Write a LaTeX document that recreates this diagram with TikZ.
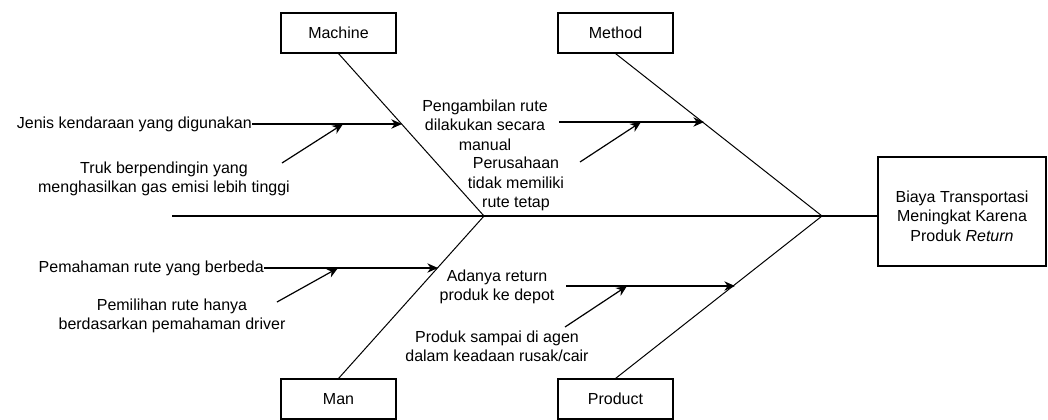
\documentclass[tikz,border=0pt]{standalone}
\usepackage{fontspec}
\setmainfont{Liberation Sans}
\usetikzlibrary{arrows.meta}
\begin{document}
\begin{tikzpicture}[x=0.75pt,y=-0.75pt,
  txt/.style={font=\fontsize{12}{14.5}\selectfont, align=center, inner sep=0pt},
  catbox/.style={draw, line width=0.8pt, minimum width=115*0.75pt, minimum height=40*0.75pt, font=\fontsize{12}{14.5}\selectfont, inner sep=0pt},
  bone/.style={line width=0.75pt},
  spine/.style={line width=1.5pt},
  arr/.style={line width=0.9pt, -{Stealth[length=8pt,width=7pt,inset=2.5pt]}}]
\useasboundingbox (0,0) rectangle (1048,419);
\clip (0,0) rectangle (1048,419);
% effect box
\node[draw, line width=0.8pt, minimum width=168*0.75pt, minimum height=109*0.75pt] (effect) at (962,211.5) {};
\node[txt] (effecttext) at (962,216) {Biaya Transportasi\\Meningkat Karena\\Produk \textit{Return}};
% category boxes
\node[catbox] (machine) at (338.5,33) {Machine};
\node[catbox] (method) at (615.5,33) {Method};
\node[catbox] (man) at (338.5,399) {Man};
\node[catbox] (product) at (615.5,399) {Product};
% spine
\coordinate (tail) at (172,216);
\coordinate (j1) at (484,216);
\coordinate (j2) at (822,216);
\draw[spine] (tail) -- (tail -| effect.west);
% bones
\draw[bone] (machine.south) -- (j1);
\draw[bone] (man.north) -- (j1);
\draw[bone] (method.south) -- (j2);
\draw[bone] (product.north) -- (j2);
% Machine causes
\node[txt, anchor=east] (c1) at (252,124) {Jenis kendaraan yang digunakan};
\coordinate (c1e) at (402,124);
\coordinate (c1m) at (343,124);
\draw[arr] (c1.east) -- (c1e);
\node[txt] (c2) at (164,179) {Truk berpendingin yang\\menghasilkan gas emisi lebih tinggi};
\coordinate (c2s) at (282,163);
\draw[arr] (c2s) -- (c1m);
% Method causes
\node[txt] (d1) at (485,125) {Pengambilan rute\\dilakukan secara\\manual};
\coordinate (d1s) at (559,122);
\coordinate (d1e) at (704,122);
\coordinate (d1m) at (641,122);
\draw[arr] (d1s) -- (d1e);
\node[txt] (d2) at (516,184) {Perusahaan\\tidak memiliki\\rute tetap};
\coordinate (d2s) at (580,162);
\draw[arr] (d2s) -- (d1m);
% Man causes
\node[txt, anchor=east] (e1) at (264,268) {Pemahaman rute yang berbeda};
\coordinate (e1e) at (438,268);
\coordinate (e1m) at (338,268);
\draw[arr] (e1.east) -- (e1e);
\node[txt] (e2) at (172,316) {Pemilihan rute hanya\\berdasarkan pemahaman driver};
\coordinate (e2s) at (277,302);
\draw[arr] (e2s) -- (e1m);
% Product causes
\node[txt] (f1) at (497,287) {Adanya return\\produk ke depot};
\coordinate (f1s) at (566,286);
\coordinate (f1e) at (735,286);
\coordinate (f1m) at (627,286);
\draw[arr] (f1s) -- (f1e);
\node[txt] (f2) at (497,346) {Produk sampai di agen\\dalam keadaan rusak/cair};
\coordinate (f2s) at (565,327);
\draw[arr] (f2s) -- (f1m);
\end{tikzpicture}
\end{document}
